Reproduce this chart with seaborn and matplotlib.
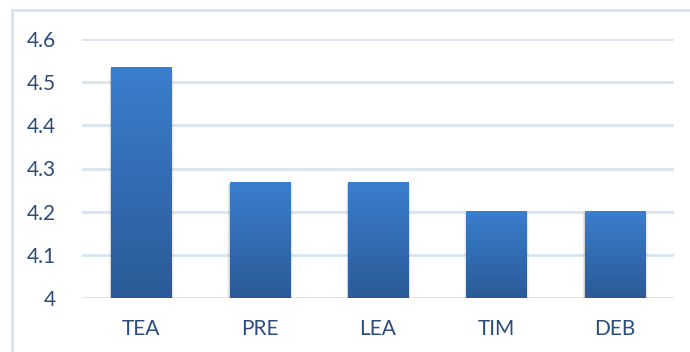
import numpy as np
import pandas as pd
import matplotlib
matplotlib.use("Agg")
import matplotlib.pyplot as plt
import seaborn as sns
from matplotlib.colors import LinearSegmentedColormap
from matplotlib.patches import Rectangle

categories = ["TEA", "PRE", "LEA", "TIM", "DEB"]
values = [4.533, 4.267, 4.267, 4.2, 4.2]
yticks = [4.0, 4.1, 4.2, 4.3, 4.4, 4.5, 4.6]
ytick_labels = ["4", "4.1", "4.2", "4.3", "4.4", "4.5", "4.6"]

sns.set_theme(style="white")
plt.rcParams['font.family'] = ['Lato', 'DejaVu Sans']

df = pd.DataFrame({"cat": categories, "val": values})

W, H, DPI = 690, 352, 100
fig = plt.figure(figsize=(W / DPI, H / DPI), dpi=DPI)
ax = fig.add_axes([82 / W, 1 - 298 / H, (674 - 82) / W, (298 - 39) / H])

YMIN, YMAX = 4.0, 4.6
sns.barplot(data=df, x="cat", y="val", ax=ax, width=0.507, color="#3a7dd0",
            saturation=1, zorder=3)

cmap = LinearSegmentedColormap.from_list("g", ["#2b5a97", "#3a7ece"])
grad = np.linspace(0, 1, 256).reshape(-1, 1)
for p in list(ax.patches):
    x0, w = p.get_x(), p.get_width()
    top = p.get_y() + p.get_height()
    bottom = YMIN
    # soft shadow
    for i, a in enumerate([0.09, 0.06, 0.03]):
        d = 0.012 * (i + 1)
        sh = Rectangle((x0 - d * 0.5, bottom), w + d * 1.2, top - bottom - 0.002,
                       facecolor="#000000", alpha=a, edgecolor="none", zorder=2)
        ax.add_patch(sh)
    ax.imshow(grad, extent=(x0, x0 + w, bottom, top), origin="lower",
              cmap=cmap, aspect="auto", zorder=4, interpolation="bilinear")
    p.set_visible(False)

ax.set_ylim(YMIN, YMAX)
ax.set_xlim(-0.5, len(categories) - 0.5)
ax.set_yticks(yticks)
ax.set_yticklabels(ytick_labels)
ax.yaxis.grid(True, color="#d9e4f2", linewidth=2, zorder=0)
ax.set_axisbelow(True)
for s in ax.spines.values():
    s.set_visible(False)
ax.set_xlabel("")
ax.set_ylabel("")
ax.tick_params(axis="both", length=0, colors="#2c4c7c", labelsize=15)
ax.tick_params(axis="y", pad=19)
ax.tick_params(axis="x", pad=15)

# outer border
fig.add_artist(Rectangle((12 / W, -0.05), 1.0, 1 - 10 / H + 0.05,
                         transform=fig.transFigure, fill=False,
                         edgecolor="#d6e2f1", linewidth=2))

fig.savefig("out.png", dpi=DPI)
